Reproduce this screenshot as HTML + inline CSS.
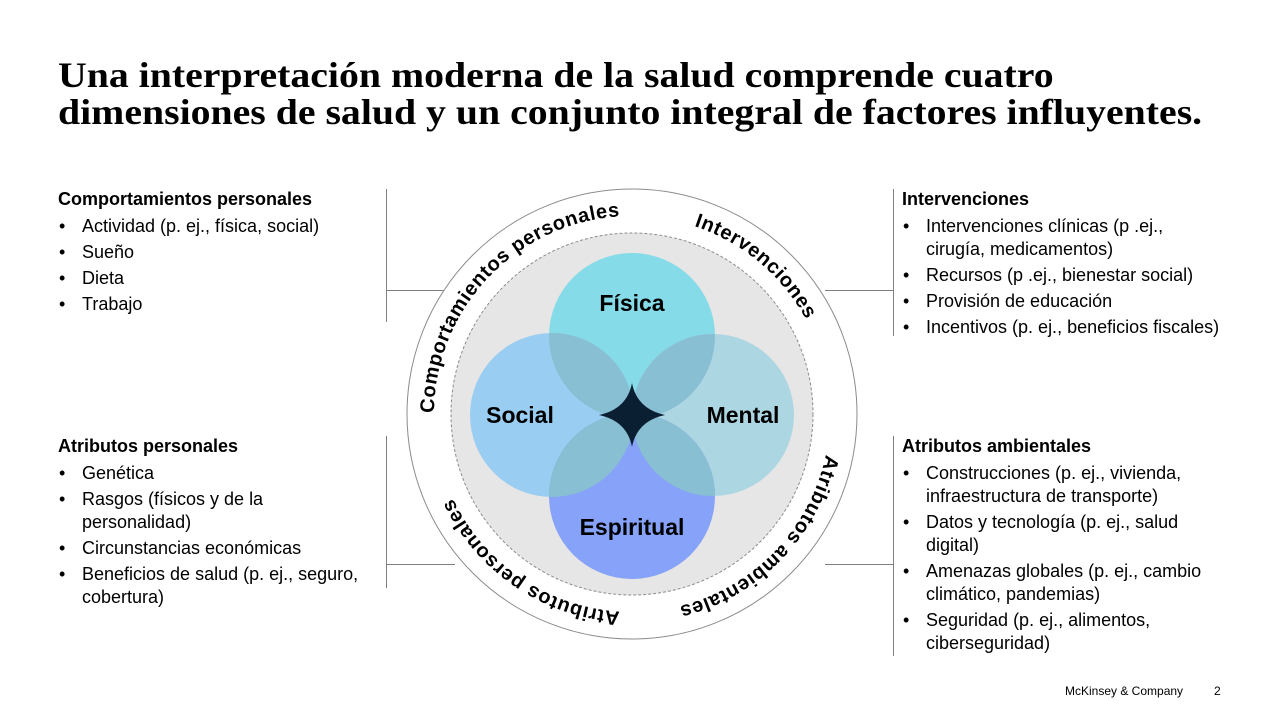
<!DOCTYPE html>
<html><head><meta charset="utf-8">
<style>
body{margin:0;width:1280px;height:720px;background:#fff;position:relative;overflow:hidden;font-family:"Liberation Sans",Arial,sans-serif;color:#000}
.title{position:absolute;left:58px;top:57px;font-family:"Liberation Serif",serif;font-weight:bold;font-size:36px;line-height:37px;white-space:nowrap;transform:scale(1.105,1);transform-origin:0 0}
.blk{position:absolute;font-size:18px;line-height:23px}
.blk h4{margin:0 0 4px 0;font-size:18px;font-weight:bold}
.blk ul{margin:0;padding:0;list-style:none}
.blk li{position:relative;padding-left:24px;margin-bottom:3px}
.blk li:before{content:"•";position:absolute;left:1px}
.ln{position:absolute;background:#7f7f7f}
.foot{position:absolute;top:684px;font-size:12px}
</style></head><body>
<div class="title">Una interpretación moderna de la salud comprende cuatro<br>dimensiones de salud y un conjunto integral de factores influyentes.</div>

<div class="blk" style="left:58px;top:188px"><h4>Comportamientos personales</h4><ul>
<li>Actividad (p. ej., física, social)</li><li>Sueño</li><li>Dieta</li><li>Trabajo</li></ul></div>

<div class="blk" style="left:902px;top:188px"><h4>Intervenciones</h4><ul>
<li>Intervenciones clínicas (p .ej.,<br>cirugía, medicamentos)</li><li>Recursos (p .ej., bienestar social)</li><li>Provisión de educación</li><li>Incentivos (p. ej., beneficios fiscales)</li></ul></div>

<div class="blk" style="left:58px;top:435px"><h4>Atributos personales</h4><ul>
<li>Genética</li><li>Rasgos (físicos y de la<br>personalidad)</li><li>Circunstancias económicas</li><li>Beneficios de salud (p. ej., seguro,<br>cobertura)</li></ul></div>

<div class="blk" style="left:902px;top:435px"><h4>Atributos ambientales</h4><ul>
<li>Construcciones (p. ej., vivienda,<br>infraestructura de transporte)</li><li>Datos y tecnología (p. ej., salud<br>digital)</li><li>Amenazas globales (p. ej., cambio<br>climático, pandemias)</li><li>Seguridad (p. ej., alimentos,<br>ciberseguridad)</li></ul></div>

<div class="ln" style="left:386px;top:189px;width:1px;height:133px"></div>
<div class="ln" style="left:386px;top:290px;width:66px;height:1px"></div>
<div class="ln" style="left:893px;top:189px;width:1px;height:147px"></div>
<div class="ln" style="left:825px;top:290px;width:68px;height:1px"></div>
<div class="ln" style="left:386px;top:436px;width:1px;height:152px"></div>
<div class="ln" style="left:386px;top:564px;width:69px;height:1px"></div>
<div class="ln" style="left:893px;top:436px;width:1px;height:220px"></div>
<div class="ln" style="left:825px;top:564px;width:68px;height:1px"></div>

<svg style="position:absolute;left:0;top:0" width="1280" height="720">
<defs>
<path id="ring" d="M 434 414 A 198 198 0 1 1 830 414 A 198 198 0 1 1 434 414"/>
<clipPath id="cF"><circle cx="632" cy="336" r="83"/></clipPath>
<clipPath id="cE"><circle cx="632" cy="496" r="83"/></clipPath>
</defs>
<circle cx="632" cy="414" r="225" fill="#fff" stroke="#8c8c8c" stroke-width="1"/>
<circle cx="632" cy="414" r="181" fill="#e6e6e6" stroke="#8c8c8c" stroke-width="1" stroke-dasharray="3,2"/>
<circle cx="632" cy="336" r="83" fill="#85dbe8"/>
<circle cx="552" cy="415" r="82" fill="#99cdf1"/>
<circle cx="713" cy="415" r="81" fill="#add6e3"/>
<circle cx="632" cy="496" r="83" fill="#86a3f9"/>
<g clip-path="url(#cF)"><circle cx="552" cy="415" r="82" fill="#88bfd3"/><circle cx="713" cy="415" r="81" fill="#88bfd3"/></g>
<g clip-path="url(#cE)"><circle cx="552" cy="415" r="82" fill="#88bfd3"/><circle cx="713" cy="415" r="81" fill="#88bfd3"/></g>
<path d="M632 383 Q637 409 665 415 Q637 421 632 447 Q627 421 599 415 Q627 409 632 383 Z" fill="#0b1f33"/>
<g font-family="Liberation Sans, Arial, sans-serif" font-weight="bold" font-size="23" text-anchor="middle">
<text x="632" y="311">Física</text>
<text x="520" y="423">Social</text>
<text x="743" y="423">Mental</text>
<text x="632" y="535">Espiritual</text>
</g>
<g font-family="Liberation Sans, Arial, sans-serif" font-weight="bold" font-size="20" text-anchor="middle" letter-spacing="0.6">
<text><textPath href="#ring" startOffset="150">Comportamientos personales</textPath></text>
<text><textPath href="#ring" startOffset="449">Intervenciones</textPath></text>
<text><textPath href="#ring" startOffset="774">Atributos ambientales</textPath></text>
<text><textPath href="#ring" startOffset="1051">Atributos personales</textPath></text>
</g>
</svg>

<div class="foot" style="left:1065px">McKinsey &amp; Company</div>
<div class="foot" style="left:1214px">2</div>
</body></html>
